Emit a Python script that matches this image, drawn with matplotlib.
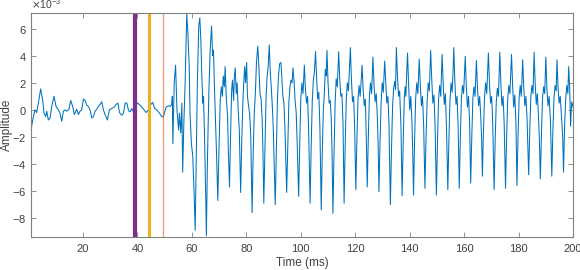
import numpy as np
import matplotlib
matplotlib.use("Agg")
import matplotlib.pyplot as plt

plt.rcParams['font.family'] = ['Liberation Sans', 'DejaVu Sans']
plt.rcParams['axes.unicode_minus'] = False

# amplitude values below are in units of 1e-3

# quiet part before the onset
pre_t = [1.0, 1.13, 1.75, 2.36, 2.97, 3.58, 4.44, 5.18, 5.67, 6.28, 6.65, 7.26, 7.88, 8.49,
         9.34, 10.08, 10.94, 11.55, 12.16, 12.78, 13.39, 14.0, 14.86, 15.47, 16.2, 16.82,
         17.68, 18.29, 18.9, 19.5, 20.13, 20.74, 21.35, 21.97, 22.58, 23.19, 23.8, 24.42,
         25.03, 25.64, 26.25, 26.87, 27.48, 28.09, 28.95, 29.68, 30.54, 31.4, 32.14, 32.8,
         33.4, 34.2, 34.83, 35.5, 36.1, 36.7, 37.3, 37.9, 38.5, 39.0, 40.0, 40.7, 41.6,
         42.4, 43.2, 44.0, 44.9, 45.6, 46.3, 47.1, 48.1, 48.9, 49.5, 50.5, 51.4, 52.0, 52.6]
pre_v = [-1.3, -1.2, -0.5, 0.0, -0.2, 0.5, 1.55, 0.7, -0.25, -0.5, -0.1, -0.75, -0.6, 0.25,
         1.0, 0.25, 0.0, -0.25, -0.85, -0.1, 0.0, -0.1, 0.05, 0.7, 0.25, -0.35,
         0.05, -0.35, -0.1, 0.0, 0.8, 0.7, 0.35, 0.25, 0.0, -0.6, -0.5, -0.1,
         0.05, 0.25, 0.4, 0.6, 0.0, -0.35, -0.75, 0.0, 0.1, 0.2, 0.4, 0.5,
         -0.2, -0.4, -0.25, 0.5, 0.5, -0.05, -0.15, 0.1, -0.15, 0.2, 0.5, 0.4, 0.2,
         0.0, -0.2, 0.0, 0.4, 0.55, 0.1, 0.0, -0.25, -0.5, -0.5, 0.2, 0.3, 0.25, 0.4]

# onset and first strong pulses
onset_t = [52.8, 53.0, 53.5, 54.0, 54.5, 55.1, 55.4, 55.9, 56.3, 56.6,
           57.0, 57.5, 58.1, 58.5, 59.0, 59.3, 59.8, 60.3, 60.8, 61.2,
           61.6, 62.0, 62.5, 62.9, 63.3, 63.6, 64.0, 64.25, 64.6, 65.1, 65.3,
           65.7, 66.2, 66.7, 67.2, 67.6, 67.9, 68.3, 68.7, 69.0, 69.5,
           69.9, 70.4, 70.8, 71.2, 71.5, 71.9, 72.2, 72.6, 73.1, 73.4]
onset_v = [1.0, -2.5, 2.0, 3.3, 0.0, -1.5, -0.25, -1.7, 0.5, -4.6,
           -1.2, 2.0, 7.1, 5.7, 3.2, -0.25, -2.5, -3.4, -6.2, -8.9,
           -3.4, 2.0, 6.2, 6.8, 5.0, 2.7, 0.5, 1.0, -1.7, -6.7, -9.3,
           -3.7, 1.2, 4.4, 6.2, 4.0, 4.4, 1.5, -1.0, -3.0, -6.7,
           -3.2, 0.7, 1.7, 1.0, 2.5, 1.7, 3.2, 1.0, -0.5, -3.2]

# voiced part, one pitch period per line
voiced_t = [
    73.8, 74.2, 74.6, 74.9, 75.3, 75.6, 75.9, 76.3, 76.6, 77.0, 77.4,
    77.9, 78.3, 78.7, 79.0, 79.4, 79.7, 80.1, 80.4, 80.8, 81.2, 81.6,
    82.1, 82.5, 82.9, 83.3, 83.7, 84.2, 84.6, 85.0, 85.4, 85.8, 86.1,
    86.4, 86.8, 87.2, 87.6, 88.0, 88.4, 88.8, 89.2, 89.6, 89.9, 90.2,
    90.6, 91.0, 91.4, 91.8, 92.2, 92.7, 93.0, 93.4, 93.8, 94.2,
    94.8, 95.2, 95.6, 96.0, 96.4, 96.8, 97.1, 97.5, 97.9, 98.3, 98.7,
    99.2, 99.6, 100.0, 100.4, 100.8, 101.3, 101.7, 102.1, 102.5, 102.9,
    103.4, 103.8, 104.2, 104.6, 105.0, 105.4, 105.8, 106.2, 106.6, 107.0,
    107.5, 107.9, 108.3, 108.6, 109.0, 109.3, 109.6, 110.0, 110.4, 110.8, 111.2, 111.5,
    111.8, 112.2, 112.6, 113.0, 113.4, 113.9, 114.3, 114.7, 115.1, 115.5,
    115.9, 116.3, 116.7, 117.1, 117.5, 117.9, 118.2, 118.6, 119.0, 119.4, 119.8,
    120.2, 120.6, 121.0, 121.4, 121.8, 122.2, 122.5, 122.9, 123.3, 123.7, 124.0,
    124.4, 124.8, 125.2, 125.6, 126.0, 126.5, 126.9, 127.3, 127.7, 128.1, 128.4,
    128.7, 129.1, 129.5, 129.9, 130.3, 130.8, 131.2, 131.6, 132.0, 132.4,
    132.9, 133.3, 133.7, 134.1, 134.5, 134.8, 135.1, 135.5, 135.9, 136.3, 136.8,
    137.2, 137.6, 138.0, 138.3, 138.6, 138.9, 139.2, 139.6, 140.0, 140.4, 140.8, 141.1,
    141.4, 141.8, 142.2, 142.6, 143.0, 143.5, 143.9, 144.3, 144.7, 145.1,
    145.6, 146.0, 146.4, 146.8, 147.2, 147.7, 148.1, 148.5, 148.9, 149.3,
    149.8, 150.2, 150.6, 151.0, 151.4, 151.9, 152.3, 152.7, 153.1, 153.5,
    154.0, 154.4, 154.8, 155.2, 155.6, 155.9, 156.2, 156.6, 157.0, 157.4, 157.8,
    158.2, 158.6, 159.0, 159.4, 159.8, 160.4, 160.8, 161.2, 161.6, 162.0,
    162.4, 162.8, 163.2, 163.6, 164.0, 164.5, 164.9, 165.3, 165.7, 166.1, 166.4,
    166.7, 167.1, 167.5, 167.9, 168.3, 168.9, 169.3, 169.7, 170.1, 170.5,
    171.0, 171.4, 171.8, 172.2, 172.6, 173.1, 173.5, 173.9, 174.3, 174.7,
    175.2, 175.6, 176.0, 176.4, 176.8, 177.4, 177.8, 178.2, 178.6, 179.0,
    179.4, 179.8, 180.2, 180.6, 181.0, 181.5, 181.9, 182.3, 182.7, 183.1,
    183.7, 184.1, 184.5, 184.9, 185.3, 185.7, 186.1, 186.5, 186.9, 187.3, 187.6,
    188.0, 188.4, 188.8, 189.2, 189.6, 190.0, 190.4, 190.8, 191.2, 191.7,
    192.2, 192.6, 193.0, 193.4, 193.8, 194.1, 194.5, 194.9, 195.3, 195.8, 196.2,
    196.5, 196.9, 197.3, 197.7, 198.1, 198.4, 198.8, 199.1, 199.5, 200.0]
voiced_v = [
    -5.7, -1.8, 1.5, 2.2, 0.7, 2.5, 3.1, 1.2, 2.0, 0.0, -1.5,
    -6.1, -2.3, 0.5, 1.9, 3.2, 2.0, 3.5, 1.0, 0.3, -0.3, -1.9,
    -7.6, -3.2, -0.2, 1.2, 3.5, 4.7, 3.2, 1.2, 0.8, -0.7, -3.2,
    -6.9, -3.0, 0.7, 2.4, 3.2, 4.8, 2.7, 1.5, 0.0, -1.5, -4.0,
    -7.0, -3.0, 0.7, 2.5, 3.4, 3.5, 2.4, 1.0, 0.5, -1.5,
    -6.1, -2.7, 0.5, 1.7, 2.2, 2.0, 3.1, 2.2, 0.7, -0.2, -2.7,
    -6.4, -2.5, 0.8, 2.0, 1.2, 3.3, 1.5, 0.5, 1.0, -1.8,
    -6.9, -2.8, 0.6, 2.2, 2.8, 4.3, 2.4, 0.8, 1.3, -1.2,
    -7.4, -3.0, 0.2, 1.0, 3.0, 2.5, 4.4, 2.0, 0.5, 0.7, -0.7, -3.5,
    -7.65, -3.2, 0.5, 2.3, 1.7, 4.3, 2.3, 1.0, 1.2, -1.0,
    -6.9, -2.6, 0.8, 2.0, 1.4, 3.2, 4.6, 2.2, 0.6, 1.0, -1.5,
    -5.9, -2.2, 0.8, 1.8, 1.0, 2.2, 3.3, 1.5, 0.3, 0.8, -1.6,
    -5.7, -2.0, 1.0, 2.0, 1.2, 3.9, 1.8, 0.6, 1.2, -0.5, -2.5,
    -6.05, -2.4, 0.5, 2.0, 1.3, 3.6, 2.0, 0.5, 1.0, -1.2,
    -7.0, -3.0, 0.2, 1.6, 2.1, 1.5, 4.6, 2.5, 1.0, 1.4, -1.3,
    -6.35, -2.5, 0.8, 1.7, 1.0, 2.8, 4.2, 1.8, 0.0, 1.0, -0.8, -3.0,
    -6.3, -2.2, 0.9, 2.0, 1.2, 3.75, 1.8, 0.3, 1.0, -1.0,
    -5.8, -2.0, 0.6, 2.0, 1.4, 4.4, 2.2, 0.5, 1.1, -1.0,
    -6.3, -2.4, 0.8, 1.8, 1.0, 4.1, 1.9, 0.4, 1.2, -1.2,
    -5.9, -2.2, 0.7, 2.0, 1.3, 2.7, 4.6, 2.0, 0.4, 1.0, -1.3,
    -5.8, -2.0, 0.9, 1.8, 1.2, 3.95, 1.7, 0.2, 1.0, -0.9,
    -5.4, -2.0, 0.8, 1.7, 1.0, 3.65, 1.6, 0.3, 1.0, -0.5, -2.0,
    -4.9, -1.5, 1.0, 2.0, 1.2, 4.2, 2.0, 0.5, 1.0, -1.0,
    -5.9, -2.2, 0.6, 1.6, 1.0, 4.25, 1.9, 0.3, 1.0, -1.0,
    -5.8, -2.0, 0.8, 1.8, 1.2, 4.1, 1.8, 0.2, 1.1, -0.8,
    -5.6, -1.8, 0.9, 1.8, 1.0, 3.7, 1.6, 0.3, 1.0, -0.6,
    -4.8, -1.6, 1.0, 1.8, 1.2, 4.25, 1.9, 0.4, 1.2, -0.5, -2.0,
    -5.1, -1.7, 0.9, 1.7, 1.2, 3.9, 1.6, 0.3, 1.0, -0.8,
    -4.9, -1.5, 0.9, 1.8, 1.4, 3.7, 1.6, 0.5, 1.0, -0.7, -2.0,
    -4.6, -1.2, 0.8, 1.8, 1.2, 3.2, 1.4, -1.2, 0.6, 0.2]

# event markers (ms)
marker_t = [39.1, 44.3, 49.3]
marker_colors = ['#7E2F8E', '#EDB120', '#D95319']
marker_widths = [3.0, 2.2, 1.0]
marker_alpha = [1.0, 1.0, 0.55]

t = np.concatenate([pre_t, onset_t, voiced_t])
amp = np.concatenate([pre_v, onset_v, voiced_v]) * 1e-3

fig = plt.figure(figsize=(5.8, 2.7), dpi=100)
ax = fig.add_axes([0.054, 0.122, 0.934, 0.83])

ax.plot(t, amp, color='#0072BD', lw=0.75)
for xm, c, w, a in zip(marker_t, marker_colors, marker_widths, marker_alpha):
    ax.axvline(xm, color=c, lw=w, alpha=a)

ax.set_xlim(1, 200)
ax.set_ylim(-9.4e-3, 7.16e-3)
ax.set_xticks(np.arange(20, 201, 20))
ax.set_yticks(np.arange(-8, 7, 2) * 1e-3)
ax.ticklabel_format(axis='y', style='sci', scilimits=(0, 0), useMathText=True)

gray = '#404040'
for s in ax.spines.values():
    s.set_color('#808080')
    s.set_linewidth(0.8)
ax.tick_params(direction='in', top=True, right=True, length=3.5, width=0.6,
               colors='#808080', labelcolor=gray, labelsize=8)
ax.tick_params(axis='x', pad=5)
ax.yaxis.get_offset_text().set_fontsize(7.5)
ax.yaxis.get_offset_text().set_color(gray)
ax.set_xlabel('Time (ms)', fontsize=8.5, color=gray, labelpad=2)
ax.set_ylabel('Amplitude', fontsize=8.5, color=gray, va='center')
ax.yaxis.set_label_coords(-0.045, 0.5)

fig.savefig('out.png', dpi=100)
